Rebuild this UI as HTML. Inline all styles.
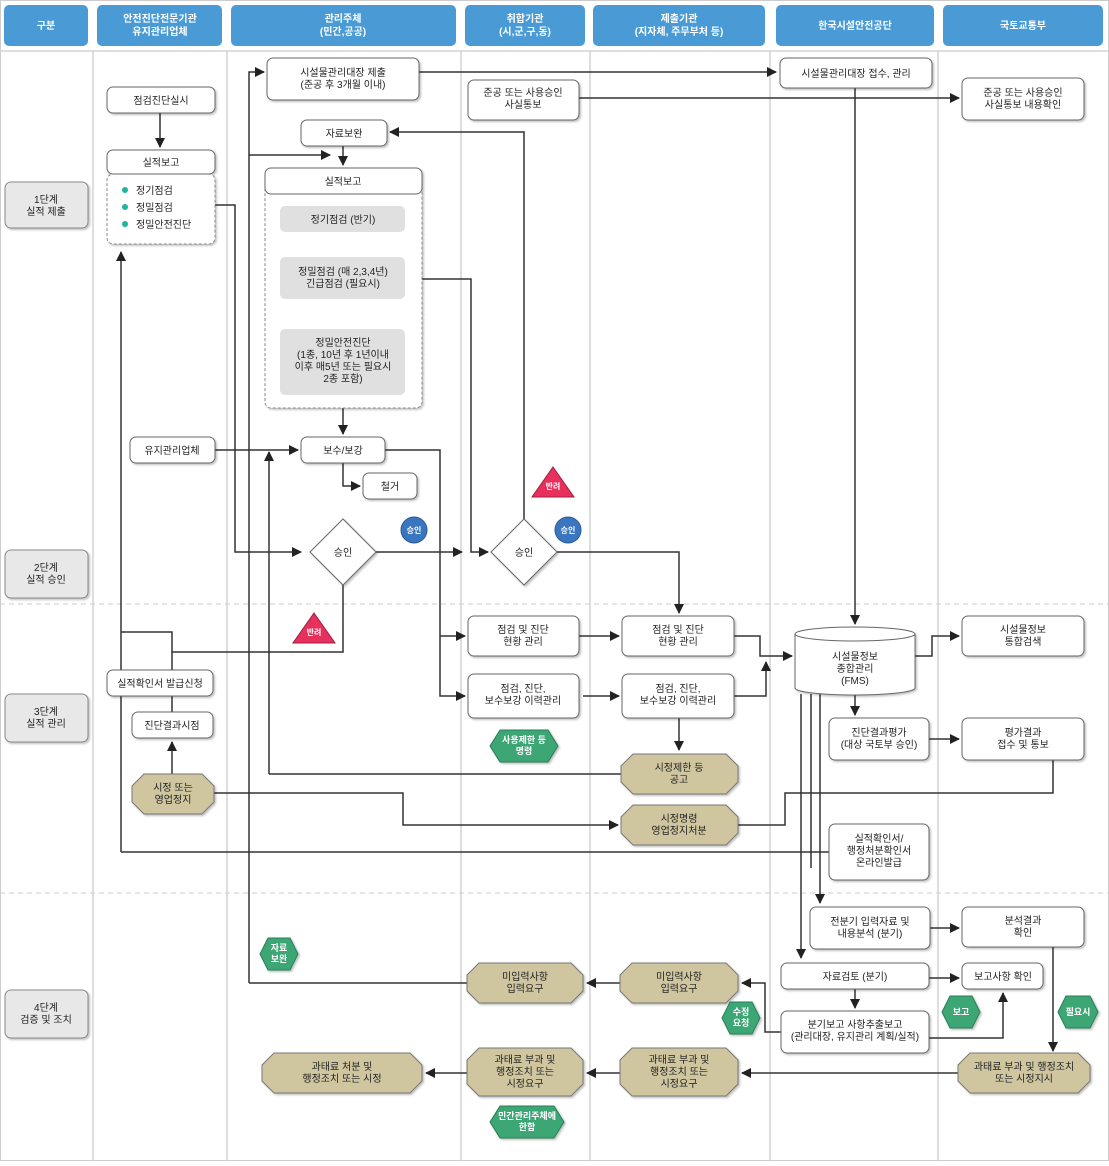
<!DOCTYPE html>
<html><head><meta charset="utf-8"><style>
html,body{margin:0;padding:0;background:#fff}
svg text{font-family:"Liberation Sans","Noto Sans CJK KR",sans-serif;font-size:10px;fill:#222;text-anchor:middle}
.b{fill:#fff;stroke:#666;stroke-width:1}
.g{fill:#e0e0e0;stroke:none}
.l{fill:none;stroke:#333;stroke-width:1.5}
.la{fill:none;stroke:#333;stroke-width:1.5;marker-end:url(#ar)}
.tan{fill:#cfc6a0;stroke:#777}
.gr{fill:#3ea674;stroke:#2c7d56}
.h text{fill:#fff}
.w{fill:#fff !important;font-weight:bold}
</style></head><body>
<svg width="1109" height="1161" viewBox="0 0 1109 1161" xmlns="http://www.w3.org/2000/svg">
<defs>
<marker id="ar" markerWidth="10" markerHeight="10" refX="9" refY="5" orient="auto" markerUnits="userSpaceOnUse"><path d="M0,0 L10,5 L0,10 z" fill="#222"/></marker>
<filter id="sh" x="-10%" y="-10%" width="130%" height="140%"><feDropShadow dx="1.5" dy="1.5" stdDeviation="1" flood-color="#000" flood-opacity="0.25"/></filter>
</defs>
<!-- grid -->
<rect x="0.5" y="0.5" width="1108" height="1160" fill="#fff" stroke="#ccc"/>
<g stroke="#d4d4d4" stroke-width="1.5">
<line x1="93" y1="50" x2="93" y2="1161"/><line x1="227" y1="50" x2="227" y2="1161"/><line x1="461" y1="50" x2="461" y2="1161"/><line x1="590" y1="50" x2="590" y2="1161"/><line x1="770" y1="50" x2="770" y2="1161"/><line x1="938" y1="50" x2="938" y2="1161"/>
<line x1="0" y1="51" x2="1109" y2="51"/>
</g>
<g stroke="#ccc" stroke-dasharray="5,4"><line x1="0" y1="604" x2="1109" y2="604"/><line x1="0" y1="893" x2="1109" y2="893"/></g>
<!-- headers -->
<g fill="#4a9bd5">
<rect x="4" y="5" width="84" height="41" rx="5"/><rect x="97" y="5" width="125" height="41" rx="5"/><rect x="231" y="5" width="225" height="41" rx="5"/><rect x="465" y="5" width="120" height="41" rx="5"/><rect x="593" y="5" width="172" height="41" rx="5"/><rect x="776" y="5" width="158" height="41" rx="5"/><rect x="943" y="5" width="160" height="41" rx="5"/>
</g>
<g class="h">
<text x="46" y="29" class="w">구분</text>
<text x="160" y="22" class="w">안전진단전문기관</text><text x="160" y="35" class="w">유지관리업체</text>
<text x="343" y="22" class="w">관리주체</text><text x="343" y="35" class="w">(민간,공공)</text>
<text x="525" y="22" class="w">취합기관</text><text x="525" y="35" class="w">(시,군,구,동)</text>
<text x="679" y="22" class="w">제출기관</text><text x="679" y="35" class="w">(지자체, 주무부처 등)</text>
<text x="855" y="29" class="w">한국시설안전공단</text>
<text x="1023" y="29" class="w">국토교통부</text>
</g>
<!-- stage labels -->
<g filter="url(#sh)" fill="#e8e8e8" stroke="#888">
<rect x="5" y="182" width="83" height="46" rx="6"/><rect x="5" y="550" width="83" height="48" rx="6"/><rect x="5" y="694" width="83" height="48" rx="6"/><rect x="5" y="990" width="83" height="48" rx="6"/>
</g>
<text x="46" y="203">1단계</text><text x="46" y="215">실적 제출</text>
<text x="46" y="571">2단계</text><text x="46" y="583">실적 승인</text>
<text x="46" y="715">3단계</text><text x="46" y="727">실적 관리</text>
<text x="46" y="1011">4단계</text><text x="46" y="1023">검증 및 조치</text>

<!-- connectors -->
<path class="la" d="M160,113 V147"/>
<path class="la" d="M419,72 H776"/>
<path class="la" d="M579,98 H959"/>
<path class="la" d="M855,88 V624"/>
<path class="la" d="M524,519 V132 H390"/>
<path class="la" d="M343,146 V165"/>
<path class="la" d="M249,983 V72 H264"/>
<path class="la" d="M249,155 H330"/>
<path class="la" d="M215,205 H235 V552 H301"/>
<path class="la" d="M215,450 H298"/>
<path class="la" d="M343,232 V253"/>
<path class="la" d="M343,299 V325"/>
<path class="la" d="M343,408 V434"/>
<path class="la" d="M343,463 V486 H360"/>
<path class="la" d="M385,450 H440 V696 H465"/>
<path class="la" d="M440,636 H465"/>
<path class="la" d="M422,279 H471 V552 H488"/>
<path class="la" d="M376,552 H462"/>
<path class="la" d="M557,552 H679 V613"/>
<path class="l" d="M343,585 V652 H172 V632 H121"/>
<path class="la" d="M121,852 V252"/>
<path class="l" d="M172,652 V670"/>
<path class="l" d="M172,696 V712"/>
<path class="la" d="M172,774 V742"/>
<path class="la" d="M214,793 H403 V825 H618"/>
<path class="l" d="M738,825 H785 V793 H1053 V760"/>
<path class="l" d="M121,852 H829"/>
<path class="la" d="M269,774 V452"/>
<path class="l" d="M269,774 H621"/>
<path class="la" d="M579,636 H619"/>
<path class="la" d="M583,696 H619"/>
<path class="la" d="M734,636 H760 V656 H792"/>
<path class="la" d="M734,696 H766 V662"/>
<path class="la" d="M679,718 V750"/>
<path class="la" d="M915,656 H932 V636 H959"/>
<path class="la" d="M855,694 V715"/>
<path class="la" d="M929,739 H959"/>
<path class="la" d="M801,694 V958"/>
<path class="la" d="M820,694 V903"/>
<path class="l" d="M811,694 V868"/>
<path class="la" d="M930,928 H959"/>
<path class="la" d="M929,978 H959"/>
<path class="la" d="M855,989 V1008"/>
<path class="la" d="M929,1038 H1003 V993"/>
<path class="la" d="M781,1032 H765 V983 H742"/>
<path class="la" d="M1053,947 V1051"/>
<path class="la" d="M958,1073 H742"/>
<path class="la" d="M620,983 H587"/>
<path class="la" d="M620,1073 H587"/>
<path class="la" d="M467,1073 H426"/>
<path class="l" d="M467,983 H249"/>

<!-- nodes -->
<g filter="url(#sh)">
<rect class="b" x="107" y="87" width="108" height="26" rx="6"/>
<rect x="107" y="174" width="108" height="70" rx="6" fill="#fff" stroke="#888" stroke-dasharray="3,2"/>
<rect class="b" x="107" y="150" width="108" height="24" rx="6"/>
<rect x="265" y="180" width="157" height="228" rx="6" fill="#fff" stroke="#888" stroke-dasharray="3,2"/>
<rect class="b" x="265" y="168" width="157" height="26" rx="6"/>
<rect class="b" x="267" y="58" width="152" height="42" rx="6"/>
<rect class="b" x="301" y="120" width="86" height="26" rx="6"/>
<rect class="b" x="130" y="437" width="85" height="26" rx="6"/>
<rect class="b" x="301" y="437" width="84" height="26" rx="6"/>
<rect class="b" x="363" y="473" width="54" height="26" rx="6"/>
<rect class="b" x="468" y="80" width="111" height="40" rx="6"/>
<rect class="b" x="780" y="58" width="152" height="30" rx="6"/>
<rect class="b" x="962" y="78" width="122" height="42" rx="6"/>
<rect class="b" x="468" y="616" width="111" height="40" rx="6"/>
<rect class="b" x="622" y="616" width="112" height="40" rx="6"/>
<rect class="b" x="468" y="674" width="111" height="44" rx="6"/>
<rect class="b" x="622" y="674" width="112" height="44" rx="6"/>
<rect class="b" x="962" y="616" width="122" height="40" rx="6"/>
<rect class="b" x="829" y="718" width="100" height="42" rx="6"/>
<rect class="b" x="962" y="718" width="122" height="42" rx="6"/>
<rect class="b" x="829" y="824" width="100" height="56" rx="6"/>
<rect class="b" x="107" y="670" width="106" height="26" rx="6"/>
<rect class="b" x="132" y="712" width="81" height="26" rx="6"/>
<rect class="b" x="810" y="907" width="120" height="42" rx="6"/>
<rect class="b" x="962" y="907" width="122" height="40" rx="6"/>
<rect class="b" x="781" y="963" width="148" height="26" rx="6"/>
<rect class="b" x="962" y="963" width="81" height="26" rx="6"/>
<rect class="b" x="781" y="1011" width="148" height="42" rx="6"/>
<path d="M795,634 V688 A60,7 0 0 0 915,688 V634 A60,7 0 0 0 795,634 Z" fill="#fff" stroke="#666"/>
<path d="M795,634 A60,7 0 0 0 915,634" fill="none" stroke="#666"/>
<polygon class="b" points="343,519 376,552 343,585 310,552"/>
<polygon class="b" points="524,519 557,552 524,585 491,552"/>
<!-- tan -->
<polygon class="tan" points="144,774 202,774 214,786 214,802 202,814 144,814 132,802 132,786"/>
<polygon class="tan" points="633,754 726,754 738,766 738,782 726,794 633,794 621,782 621,766"/>
<polygon class="tan" points="633,805 726,805 738,817 738,833 726,845 633,845 621,833 621,817"/>
<polygon class="tan" points="632,963 726,963 738,975 738,991 726,1003 632,1003 620,991 620,975"/>
<polygon class="tan" points="479,963 571,963 583,975 583,991 571,1003 479,1003 467,991 467,975"/>
<polygon class="tan" points="632,1048 726,1048 738,1060 738,1084 726,1096 632,1096 620,1084 620,1060"/>
<polygon class="tan" points="479,1048 571,1048 583,1060 583,1084 571,1096 479,1096 467,1084 467,1060"/>
<polygon class="tan" points="274,1053 410,1053 422,1065 422,1081 410,1093 274,1093 262,1081 262,1065"/>
<polygon class="tan" points="970,1053 1078,1053 1090,1065 1090,1081 1078,1093 970,1093 958,1081 958,1065"/>
<!-- green -->
<polygon class="gr" points="500,730 548,730 558,746 548,762 500,762 490,746"/>
<polygon class="gr" points="268,938 290,938 298,954 290,970 268,970 260,954"/>
<polygon class="gr" points="730,1002 752,1002 760,1018 752,1034 730,1034 722,1018"/>
<polygon class="gr" points="950,996 972,996 980,1012 972,1028 950,1028 942,1012"/>
<polygon class="gr" points="1066,996 1090,996 1098,1012 1090,1028 1066,1028 1058,1012"/>
<polygon class="gr" points="500,1106 554,1106 564,1122 554,1138 500,1138 490,1122"/>
</g>
<rect class="g" x="280" y="206" width="125" height="26" rx="5"/>
<rect class="g" x="280" y="257" width="125" height="42" rx="5"/>
<rect class="g" x="280" y="329" width="125" height="66" rx="5"/>
<circle cx="414" cy="530" r="13" fill="#3a76bf" stroke="#2a5a95"/>
<circle cx="568" cy="530" r="13" fill="#3a76bf" stroke="#2a5a95"/>
<polygon points="553,467 574,497 532,497" fill="#e8305c" stroke="#a01d3e"/>
<polygon points="314,613 335,643 293,643" fill="#e8305c" stroke="#a01d3e"/>
<g fill="#1fb3a0"><circle cx="125" cy="190" r="3"/><circle cx="125" cy="207" r="3"/><circle cx="125" cy="224" r="3"/></g>

<!-- texts -->
<text x="161" y="104">점검진단실시</text>
<text x="161" y="166">실적보고</text>
<text x="155" y="194" style="text-anchor:start" transform="translate(-19,0)">정기점검</text>
<text x="136" y="211" style="text-anchor:start">정밀점검</text>
<text x="136" y="228" style="text-anchor:start">정밀안전진단</text>
<text x="343" y="76">시설물관리대장 제출</text><text x="343" y="88">(준공 후 3개월 이내)</text>
<text x="344" y="137">자료보완</text>
<text x="343" y="185">실적보고</text>
<text x="343" y="223">정기점검 (반기)</text>
<text x="343" y="275">정밀점검 (매 2,3,4년)</text><text x="343" y="287">긴급점검 (필요시)</text>
<text x="343" y="346">정밀안전진단</text><text x="343" y="358">(1종, 10년 후 1년이내</text><text x="343" y="370">이후 매5년 또는 필요시</text><text x="343" y="382">2종 포함)</text>
<text x="172" y="454">유지관리업체</text>
<text x="343" y="454">보수/보강</text>
<text x="390" y="490">철거</text>
<text x="343" y="556">승인</text><text x="524" y="556">승인</text>
<text x="414" y="533" class="w" style="font-size:8px">승인</text><text x="568" y="533" class="w" style="font-size:8px">승인</text>
<text x="553" y="489" class="w" style="font-size:8px">반려</text><text x="314" y="635" class="w" style="font-size:8px">반려</text>
<text x="523" y="96">준공 또는 사용승인</text><text x="523" y="108">사실통보</text>
<text x="856" y="77">시설물관리대장 접수, 관리</text>
<text x="1023" y="96">준공 또는 사용승인</text><text x="1023" y="108">사실통보 내용확인</text>
<text x="523" y="633">점검 및 진단</text><text x="523" y="645">현황 관리</text>
<text x="678" y="633">점검 및 진단</text><text x="678" y="645">현황 관리</text>
<text x="523" y="692">점검, 진단,</text><text x="523" y="704">보수보강 이력관리</text>
<text x="678" y="692">점검, 진단,</text><text x="678" y="704">보수보강 이력관리</text>
<text x="855" y="660">시설물정보</text><text x="855" y="672">종합관리</text><text x="855" y="684">(FMS)</text>
<text x="1023" y="633">시설물정보</text><text x="1023" y="645">통합검색</text>
<text x="879" y="736">진단결과평가</text><text x="879" y="748">(대상 국토부 승인)</text>
<text x="1023" y="736">평가결과</text><text x="1023" y="748">접수 및 통보</text>
<text x="524" y="743" class="w" style="font-size:9px">사용제한 등</text><text x="524" y="754" class="w" style="font-size:9px">명령</text>
<text x="679" y="771">시정제한 등</text><text x="679" y="783">공고</text>
<text x="679" y="822">시정명령</text><text x="679" y="834">영업정지처분</text>
<text x="879" y="842">실적확인서/</text><text x="879" y="854">행정처분확인서</text><text x="879" y="866">온라인발급</text>
<text x="160" y="687">실적확인서 발급신청</text>
<text x="172" y="729">진단결과시점</text>
<text x="173" y="791">시정 또는</text><text x="173" y="803">영업정지</text>
<text x="870" y="925">전분기 입력자료 및</text><text x="870" y="937">내용분석 (분기)</text>
<text x="1023" y="924">분석결과</text><text x="1023" y="936">확인</text>
<text x="855" y="980">자료검토 (분기)</text>
<text x="1003" y="980">보고사항 확인</text>
<text x="855" y="1028">분기보고 사항추출보고</text><text x="855" y="1040">(관리대장, 유지관리 계획/실적)</text>
<text x="679" y="980">미입력사항</text><text x="679" y="992">입력요구</text>
<text x="525" y="980">미입력사항</text><text x="525" y="992">입력요구</text>
<text x="679" y="1063">과태료 부과 및</text><text x="679" y="1075">행정조치 또는</text><text x="679" y="1087">시정요구</text>
<text x="525" y="1063">과태료 부과 및</text><text x="525" y="1075">행정조치 또는</text><text x="525" y="1087">시정요구</text>
<text x="342" y="1070">과태료 처분 및</text><text x="342" y="1082">행정조치 또는 시정</text>
<text x="1024" y="1070">과태료 부과 및 행정조치</text><text x="1024" y="1082">또는 시정지시</text>
<text x="279" y="951" class="w" style="font-size:9px">자료</text><text x="279" y="962" class="w" style="font-size:9px">보완</text>
<text x="741" y="1015" class="w" style="font-size:9px">수정</text><text x="741" y="1026" class="w" style="font-size:9px">요청</text>
<text x="961" y="1015" class="w" style="font-size:9px">보고</text>
<text x="1078" y="1015" class="w" style="font-size:9px">필요시</text>
<text x="527" y="1119" class="w" style="font-size:9px">민간관리주체에</text><text x="527" y="1130" class="w" style="font-size:9px">한함</text>
</svg>
</body></html>
